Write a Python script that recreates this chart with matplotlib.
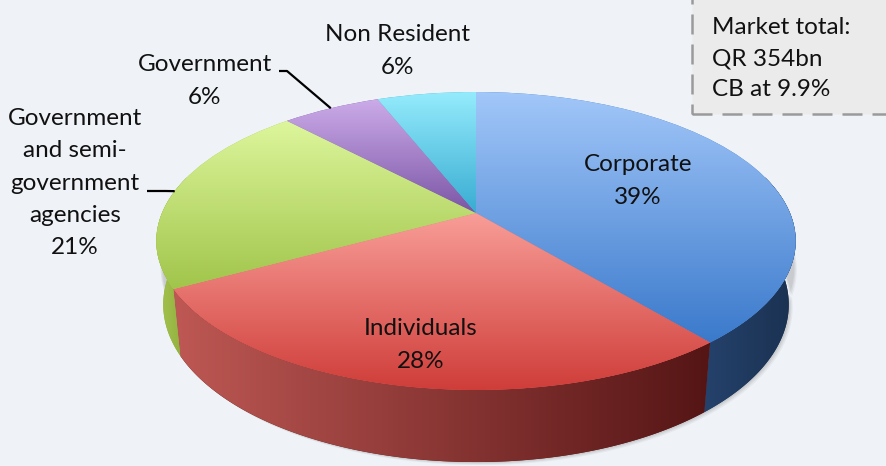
import numpy as np
import matplotlib
matplotlib.use("Agg")
import matplotlib.pyplot as plt
from matplotlib import transforms as mtransforms
from matplotlib.patches import Polygon, Rectangle
from matplotlib.colors import to_rgb

# ---------------- data ----------------
categories = ["Corporate", "Individuals", "Government and semi-government agencies",
              "Government", "Non Resident"]
shares = [39, 28, 21, 6, 6]
label_texts = ["Corporate\n39%", "Individuals\n28%",
               "Government\nand semi-\ngovernment\nagencies\n21%",
               "Government\n6%", "Non Resident\n6%"]
note_lines = ["Market total:", "QR 354bn", "CB at 9.9%"]

# ---------------- style ----------------
top_light = ["#a2c7f9", "#f99e98", "#ddf69c", "#ccabe9", "#95ebfc"]
top_dark = ["#3a79cb", "#cf3d39", "#a1c54b", "#7b56a6", "#38acd2"]
side_light = ["#25426c", "#be5854", "#a6c54e", "#6c4a94", "#2f8fb0"]
side_dark = ["#1a3150", "#551515", "#8ba93b", "#4a3070", "#1f6f8a"]
BG = "#eff3f7"
FONT = ["Lato", "DejaVu Sans"]
FS = 17.5

W, H = 886, 466
fig = plt.figure(figsize=(W / 100, H / 100), dpi=100)
fig.patch.set_facecolor(BG)
ax = fig.add_axes([0, 0, 1, 1])
ax.set_facecolor(BG)

# perspective camera for the tilted disc
CX, CY = 476.0, H - 213.0
D, SIN, COS = 4.745, 0.452, 0.892
FX = 314.0 * D
FY = 318.0 * D
DEPTH = 0.225


def project(u, v, w=0.0):
    yc = v * SIN + w * COS
    zc = D + v * COS - w * SIN
    return CX + FX * u / zc, CY + FY * yc / zc


class Persp(mtransforms.Transform):
    input_dims = 2
    output_dims = 2
    is_separable = False
    has_inverse = False

    def __init__(self, w=0.0):
        super().__init__()
        self.w = w

    def transform_non_affine(self, values):
        values = np.asarray(values, dtype=float)
        x, y = project(values[:, 0], values[:, 1], self.w)
        return np.column_stack([x, y])


wedges, _ = ax.pie(shares, startangle=90, counterclock=False, radius=1,
                   center=(0, 0), wedgeprops=dict(linewidth=0))
persp = Persp()


def hgrad(c1, c2, n=256):
    a, b = np.array(to_rgb(c1)), np.array(to_rgb(c2))
    t = np.linspace(0, 1, n)[:, None]
    return (a * (1 - t) + b * t)


def side_verts(lo, hi, w_top=0.0, w_bot=-DEPTH, n=200):
    t = np.radians(np.linspace(lo, hi, n))
    xt, yt = project(np.cos(t), np.sin(t), w_top)
    xb, yb = project(np.cos(t), np.sin(t), w_bot)
    return np.column_stack([np.r_[xt, xb[::-1]], np.r_[yt, yb[::-1]]])


# soft shadow below the rim
for k, a in enumerate([0.10, 0.09, 0.07]):
    sv = side_verts(-185, 0, w_top=-0.4 * DEPTH) + np.array([1.5 + 1.2 * k, -1.0 - 1.0 * k])
    ax.add_patch(Polygon(sv, closed=True, facecolor="#555555", edgecolor="none",
                         alpha=a, zorder=0.5))

# sides
for i, wdg in enumerate(wedges):
    t1, t2 = wdg.theta1, wdg.theta2
    for shift in (0, 360, -360):
        lo, hi = max(t1 + shift, -195), min(t2 + shift, 15)
        if hi <= lo:
            continue
        verts = side_verts(lo, hi)
        poly = Polygon(verts, closed=True, facecolor=side_dark[i], edgecolor="none", zorder=1)
        ax.add_patch(poly)
        g = hgrad(side_light[i], side_dark[i])[None, :, :]
        im = ax.imshow(g, extent=(verts[:, 0].min(), verts[:, 0].max(),
                                  verts[:, 1].min(), verts[:, 1].max()),
                       origin="lower", aspect="auto", interpolation="bilinear", zorder=2)
        im.set_clip_path(poly)

# top faces
for i, wdg in enumerate(wedges):
    wdg.set_transform(persp + ax.transData)
    wdg.set_facecolor(top_dark[i])
    wdg.set_zorder(3)
    bb = persp.transform_path(wdg.get_path()).get_extents()
    g = hgrad(top_dark[i], top_light[i])[:, None, :]
    im = ax.imshow(g, extent=(bb.x0, bb.x1, bb.y0, bb.y1), origin="lower",
                   aspect="auto", interpolation="bilinear", zorder=4)
    im.set_clip_path(wdg)

# labels
txt = dict(ha="center", va="center", fontsize=FS, family=FONT, color="#111111",
           linespacing=1.66, zorder=6)
ax.text(638, H - 181, label_texts[0], **txt)
ax.text(421, H - 345, label_texts[1], **txt)
ax.text(75, H - 183, label_texts[2], **txt)
ax.text(205, H - 81, label_texts[3], **txt)
ax.text(398, H - 51, label_texts[4], **txt)


# leader lines to wedge mid-points
def mid_point(wdg):
    a = np.radians(0.5 * (wdg.theta1 + wdg.theta2))
    return project(np.cos(a), np.sin(a), 0.0)


gx, gy = mid_point(wedges[3])
ax.plot([279, 287, gx], [H - 71, H - 71, gy], color="black", lw=1.6, zorder=6,
        solid_capstyle="butt")
sx, sy = mid_point(wedges[2])
ax.plot([147, 166, sx], [H - 191, H - 191, sy], color="black", lw=1.6, zorder=6,
        solid_capstyle="butt")

# note box
box = Rectangle((692, H - 114), 220, 130, facecolor="#ebebeb", edgecolor="#9a9a9a",
                linewidth=1.8, linestyle=(0, (8, 4)), zorder=5)
ax.add_patch(box)
for k, line in enumerate(note_lines):
    ax.text(712, H - (28 + 31 * k), line, ha="left", va="center", fontsize=FS,
            family=FONT, color="#111111", zorder=6)

ax.set_aspect("auto")
ax.set_xlim(0, W)
ax.set_ylim(0, H)
ax.axis("off")
fig.savefig("out.png", dpi=100, facecolor=BG)
